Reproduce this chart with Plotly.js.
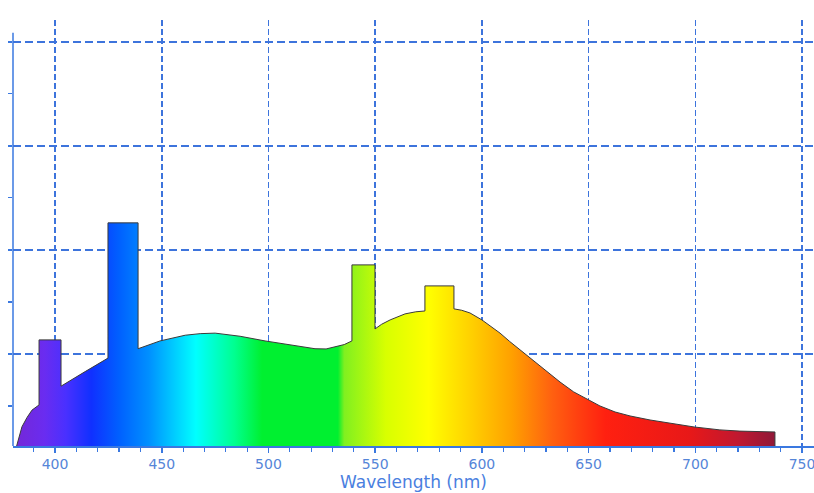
<!DOCTYPE html>
<html>
<head>
<meta charset="utf-8">
<script src="https://cdn.plot.ly/plotly-3.0.1.min.js"></script>
<style>html,body{margin:0;padding:0;background:#fff;}#chart{width:814px;height:493px;}</style>
</head>
<body>
<div id="chart"></div>
<script>
// Spectrum outline (wavelength in nm, relative intensity)
const wavelength = [382, 383.1, 384.5, 386.9, 389.2, 392.5, 392.5, 402.8, 402.8, 414.1, 424.8, 424.8, 438.9, 438.9,
  449.2, 461, 468, 475, 486.7, 498.4, 510.1, 521.8, 527, 531.2, 535.5, 539.1, 539.1, 549.9, 549.9,
  553, 557, 564, 569, 573.3, 573.3, 586.9, 586.9, 590.5, 594.4, 600, 604, 608.5, 613, 617.9, 627.2, 636.6, 643, 649.7, 655.3, 662.4, 669.4, 678.8, 688.1, 699.4, 711.5, 720.9, 737.3, 737.3];
const intensity = [0.115, 0.20, 0.30, 0.39, 0.46, 0.51, 1.135, 1.135, 0.69, 0.83, 0.96, 2.26, 2.26, 1.05,
  1.125, 1.18, 1.195, 1.20, 1.17, 1.125, 1.087, 1.05, 1.048, 1.067, 1.09, 1.125, 1.856, 1.856, 1.24,
  1.285, 1.327, 1.385, 1.405, 1.413, 1.654, 1.654, 1.433, 1.42, 1.394, 1.327, 1.27, 1.20, 1.12, 1.04, 0.885, 0.73, 0.635, 0.558, 0.50, 0.442, 0.404, 0.365, 0.335, 0.298, 0.27, 0.258, 0.25, 0.115];

// Rainbow colour stops along wavelength
const stopNm = [382, 395, 405, 417, 430, 444, 455, 466, 475, 484, 497, 532.5, 535.5, 555, 575, 595, 614, 633, 645, 658, 697, 720, 737.3];
const stopColor = ['#7428d8', '#6a2cf0', '#4a30ff', '#1030ff', '#0060ff', '#0090ff', '#00c8ff', '#00ffff', '#00ffc8', '#00ff90',
  '#00f030', '#00f030', '#80f020', '#d8ff00', '#ffff00', '#ffd000', '#ffa000', '#ff6010', '#ff4010', '#ff2010', '#e81818', '#c01830', '#901838'];

const xTicks = [400, 450, 500, 550, 600, 650, 700, 750];

const gStart = stopNm[0], gStop = stopNm[stopNm.length - 1];
const colorscale = stopNm.map((v, i) => [(v - gStart) / (gStop - gStart), stopColor[i]]);

const blue = '#3a78e0';

const trace = {
  x: wavelength, y: intensity, type: 'scatter', mode: 'lines',
  line: {color: '#3a3a3a', width: 1},
  fill: 'tozeroy',
  fillgradient: {type: 'horizontal', start: gStart, stop: gStop, colorscale: colorscale},
  hoverinfo: 'skip', showlegend: false
};

const layout = {
  width: 814, height: 493,
  margin: {l: 13, r: 0, t: 20, b: 47},
  paper_bgcolor: '#ffffff', plot_bgcolor: '#ffffff',
  showlegend: false,
  xaxis: {
    range: [380.3, 755.6], autorange: false,
    tickvals: xTicks, ticktext: xTicks.map(String),
    showline: true, linecolor: blue, linewidth: 1.5,
    ticks: 'outside', ticklen: 5, tickwidth: 1.5, tickcolor: blue,
    minor: {dtick: 10, tick0: 400, ticks: 'outside', ticklen: 4, tickwidth: 1.2, tickcolor: blue, showgrid: false},
    showgrid: true, gridcolor: '#3d74dc', gridwidth: 1.5, griddash: '6px,3px',
    zeroline: false,
    ticklabeloverflow: 'allow',
    tickfont: {family: 'DejaVu Sans', size: 14, color: '#5585d8'},
    title: {text: 'Wavelength (nm)', font: {family: 'DejaVu Sans', size: 17, color: '#4a80e0'}, standoff: 4},
    automargin: false
  },
  yaxis: {
    range: [0.115, 4.21], autorange: false,
    tick0: 0, dtick: 1,
    showline: false,
    ticks: 'outside', ticklen: 4, tickwidth: 1.5, tickcolor: blue,
    minor: {dtick: 0.5, tick0: 0, ticks: 'outside', ticklen: 4, tickwidth: 1.2, tickcolor: blue, showgrid: false},
    showgrid: true, gridcolor: '#3d74dc', gridwidth: 1.5, griddash: '8px,4px',
    zeroline: false, showticklabels: false, automargin: false
  },
  shapes: [{
    type: 'line', xref: 'paper', yref: 'y', x0: 0, x1: 0, y0: 0.115, y1: 4.087,
    line: {color: blue, width: 1.5}, layer: 'above'
  }]
};

Plotly.newPlot('chart', [trace], layout, {displayModeBar: false, staticPlot: true});
</script>
</body>
</html>
